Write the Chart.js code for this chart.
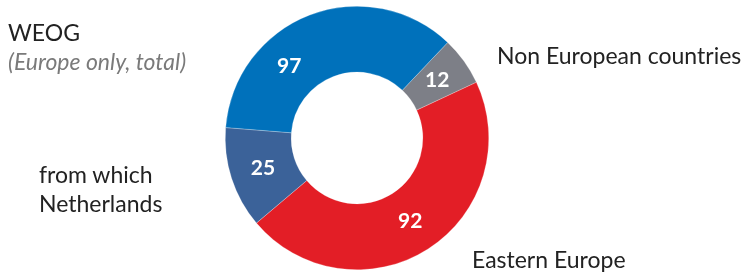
<!DOCTYPE html>
<html lang="en">
<head>
    <meta charset="UTF-8">
    <title>Donut</title>
    <script src="https://cdn.jsdelivr.net/npm/chart.js"></script>
    <style>
        body { margin: 0; background: #fff; font-family: Lato, "Open Sans", sans-serif; }
        .wrap { position: relative; width: 748px; height: 273px; }
        .lbl { position: absolute; font-size: 23px; line-height: 23px; color: #222; white-space: nowrap; }
        .sub { color: #7a7a7a; font-style: italic; }
    </style>
</head>
<body>
    <div class="wrap">
        <canvas id="donut" width="748" height="273"></canvas>
        <div class="lbl" style="left:8px; top:21px;">WEOG</div>
        <div class="lbl sub" style="left:8px; top:50px;">(Europe only, total)</div>
        <div class="lbl" style="left:39px; top:163px;">from which</div>
        <div class="lbl" style="left:39px; top:192px;">Netherlands</div>
        <div class="lbl" style="left:497px; top:44px;">Non European countries</div>
        <div class="lbl" style="left:472px; top:248px;">Eastern Europe</div>
    </div>

    <script>
        // values
        const categories = ['Non European countries', 'Eastern Europe', 'Netherlands', 'WEOG (rest of Europe)'];
        const nonEuropean = 12;
        const easternEurope = 92;
        const netherlands = 25;
        const weogTotal = 97;

        const sliceValues = [nonEuropean, easternEurope, netherlands, weogTotal - netherlands];
        const sliceColors = ['#7d7f87', '#e31e26', '#3b6299', '#0071bb'];

        // text shown on the ring, and which slices it spans
        const ringLabels = [String(nonEuropean), String(easternEurope), String(netherlands), String(weogTotal)];
        const ringSpans = [[0, 0], [1, 1], [2, 2], [2, 3]];

        const ringText = {
            id: 'ringText',
            afterDatasetsDraw(chart) {
                const ctx = chart.ctx;
                const arcs = chart.getDatasetMeta(0).data;
                ctx.save();
                ctx.fillStyle = '#fff';
                ctx.font = 'bold 21px Lato, sans-serif';
                ctx.textAlign = 'center';
                ctx.textBaseline = 'middle';
                ringLabels.forEach((txt, i) => {
                    const a = arcs[ringSpans[i][0]];
                    const b = arcs[ringSpans[i][1]];
                    const mid = (a.startAngle + b.endAngle) / 2;
                    const r = (a.innerRadius + a.outerRadius) / 2;
                    ctx.fillText(txt, a.x + Math.cos(mid) * r, a.y + Math.sin(mid) * r);
                });
                ctx.restore();
            }
        };

        new Chart(document.getElementById('donut'), {
            type: 'doughnut',
            data: {
                labels: categories,
                datasets: [{
                    data: sliceValues,
                    backgroundColor: sliceColors,
                    borderColor: 'rgba(255,255,255,0.5)',
                    borderWidth: 0.5
                }]
            },
            options: {
                responsive: false,
                animation: false,
                rotation: 43.5,
                cutout: '50%',
                layout: { padding: { left: 225, right: 259, top: 6, bottom: 3 } },
                plugins: {
                    legend: { display: false },
                    tooltip: { enabled: false }
                }
            },
            plugins: [ringText]
        });
    </script>
</body>
</html>
